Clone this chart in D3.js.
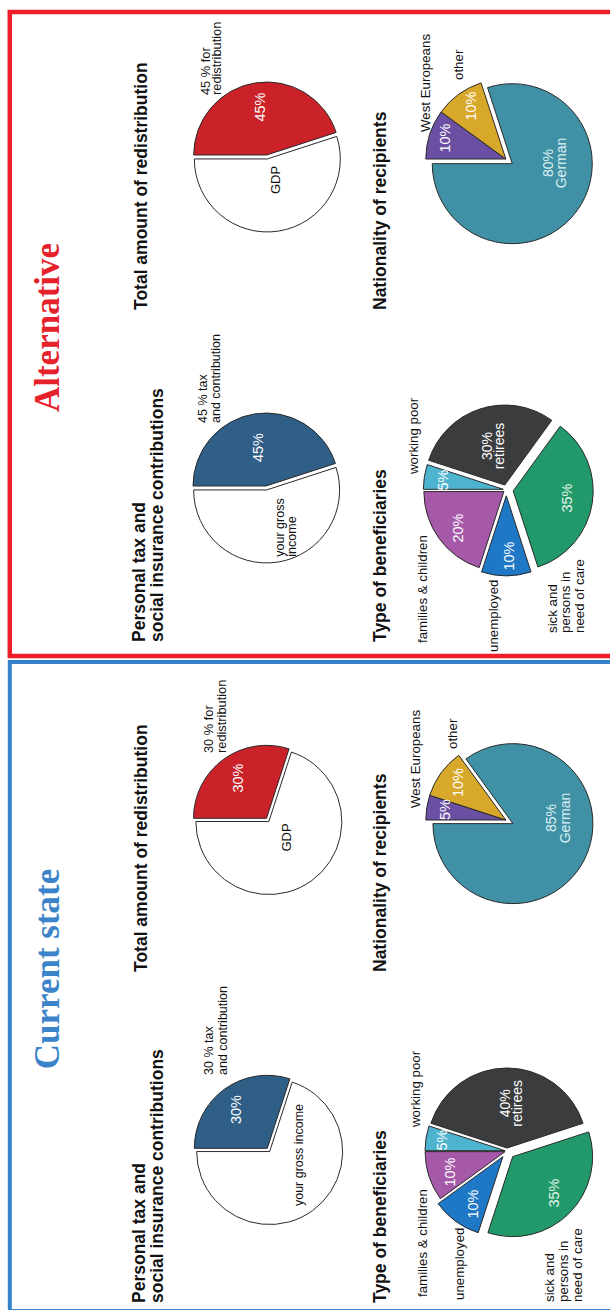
<!DOCTYPE html>
<html>
<head>
<meta charset="utf-8">
<script src="https://cdn.jsdelivr.net/npm/d3@7"></script>
<style>
  html, body { margin: 0; padding: 0; background: #ffffff; }
  svg { display: block; }
</style>
</head>
<body>
<svg id="chart" width="610" height="1310"></svg>
<script>
// ---------------- DATA ----------------
const panelTitles = ["Current state", "Alternative"];
const chartTitles = [["Personal tax and", "social insurance contributions"], ["Total amount of redistribution"], ["Type of beneficiaries"], ["Nationality of recipients"]];

const taxCategories = ["tax and contribution", "your gross income"];
const taxCurrent = [30, 70];
const taxAlternative = [45, 55];

const redistCategories = ["for redistribution", "GDP"];
const redistCurrent = [30, 70];
const redistAlternative = [45, 55];

const beneficiaryCategories = ["working poor", "retirees", "sick and persons in need of care", "unemployed", "families & children"];
const beneficiariesCurrent = [5, 40, 35, 10, 10];
const beneficiariesAlternative = [5, 30, 35, 10, 20];

const nationalityCategories = ["West Europeans", "other", "German"];
const nationalityCurrent = [5, 10, 85];
const nationalityAlternative = [10, 10, 80];

// ---------------- STYLE ----------------
const SANS = "'Liberation Sans', Arial, Helvetica, sans-serif";
const SERIF = "'Liberation Serif', 'Times New Roman', serif";
const taxColors = ["#2f5e86", "#ffffff"];
const redistColors = ["#cb2229", "#ffffff"];
const beneficiaryColors = ["#4db3cf", "#3b3c3e", "#21996b", "#1e78c6", "#a659a8"];
const nationalityColors = ["#6b4fa2", "#d8a82b", "#4091a5"];

// ---------------- LAYOUT (landscape coordinates, rotated -90° onto the page) ----------------
const layout = [
  { // Current state
    frame: { x: -1, y: 9.8, w: 649, h: 700, color: "#3583c9", sw: 4 },
    title: { x: 341, y: 59, color: "#3b84c9" },
    chartTitles: [[7, 145], [338, 147], [7, 385.5], [338, 385.5]],
    tax: { cx: 161.7, cy: 267.3, r: 73, explode: [0, 4],
           inner: [[38.8, -31.3]], innerText: [[-6.7, 35.7]], textLines: [["your gross income"]], textAnchor: "middle", textLh: 12.5,
           outer: [73.3, -54.3], outerLh: 13.5 },
    redist: { cx: 491.7, cy: 266.5, r: 73, explode: [0, 4],
           inner: [[40.3, -28.5]], gdp: [-19.2, 19.5],
           outer: [65.3, -54], outerLh: 13 },
    benef: { cx: 159, cy: 507, r: 80, explode: [2, 3, 8, 7, 2],
           inner: [[11, -65.3], [47.7, 3], [-42, 46.5], [-53, -34.5], [-21, -57]],
           outer: [[24, -87], null, [-151, 47], [-149, -43.5], [-146, -80]] },
    nation: { cx: 490, cy: 505.8, r: 80, explode: [0, 0, 8],
           inner: [[10.5, -61.3], [37.5, -47.8], [2, 50]],
           outer: [[12, -85.8], [71, -48.8], null] }
  },
  { // Alternative
    frame: { x: 654, y: 9.8, w: 644, h: 700, color: "#ee1f2a", sw: 4.5 },
    title: { x: 982.5, y: 59, color: "#e5222b" },
    chartTitles: [[668, 145], [1000, 147], [668, 385.5], [1000, 385.5]],
    tax: { cx: 824, cy: 266, r: 73, explode: [0, 4],
           inner: [[38.5, -8.5]], innerText: [[-70.7, 17.5]], textLines: [["your gross", "income"]], textAnchor: "start", textLh: 12.5,
           outer: [63, -59], outerLh: 13 },
    redist: { cx: 1155, cy: 266.7, r: 73, explode: [0, 4],
           inner: [[48, -7.2]], gdp: [-25, 8.3],
           outer: [60, -56.7], outerLh: 11 },
    benef: { cx: 820.2, cy: 506.3, r: 80, explode: [3, 5, 7, 6, 3],
           inner: [[9.8, -63.8], [43.8, -14.3], [-8.2, 60.7], [-66.2, 2.7], [-38.2, -48.8]],
           outer: [[15.8, -88.3], null, [-143.2, 50.3], [-162.2, -8.3], [-153.2, -79.3]] },
    nation: { cx: 1151, cy: 505.8, r: 80, explode: [0, 0, 8],
           inner: [[21, -61.3], [53, -34.8], [-4, 46.7]],
           outer: [[27, -75.8], [79, -42.8], null] }
  }
];

const panelData = [
  { tax: taxCurrent, redist: redistCurrent, benef: beneficiariesCurrent, nation: nationalityCurrent },
  { tax: taxAlternative, redist: redistAlternative, benef: beneficiariesAlternative, nation: nationalityAlternative }
];

// ---------------- DRAW ----------------
const svg = d3.select("#chart");
svg.append("rect").attr("width", 610).attr("height", 1310).attr("fill", "#ffffff");
const root = svg.append("g").attr("transform", "translate(0,1310) rotate(-90)");

const pie = d3.pie().sort(null).value(d => d).startAngle(0).endAngle(2 * Math.PI);

function drawPie(g, cfg, values, colors) {
  const arcs = pie(values);
  const arc = d3.arc().innerRadius(0).outerRadius(cfg.r);
  const pg = g.append("g").attr("transform", `translate(${cfg.cx},${cfg.cy})`);
  pg.selectAll("path").data(arcs).join("path")
    .attr("d", arc)
    .attr("transform", (d, i) => {
      const m = (d.startAngle + d.endAngle) / 2, e = cfg.explode[i] || 0;
      return `translate(${Math.sin(m) * e},${-Math.cos(m) * e})`;
    })
    .attr("fill", (d, i) => colors[i])
    .attr("stroke", "#2a2a2a")
    .attr("stroke-width", 1)
    .attr("stroke-linejoin", "round");
  return pg;
}

function text(g, x, y, lines, o) {
  const t = g.append("text")
    .attr("x", x).attr("y", y)
    .attr("font-family", o.family || SANS)
    .attr("font-size", o.size)
    .attr("font-weight", o.weight || "normal")
    .attr("fill", o.fill || "#111111")
    .attr("text-anchor", o.anchor || "start");
  lines.forEach((ln, i) => {
    t.append("tspan").attr("x", x).attr("dy", i === 0 ? 0 : o.lh).text(ln);
  });
  return t;
}

const pct = v => `${v}%`;
const PCT_SIZE = 14.5;
const LBL_SIZE = 13.3;
// centred single-line percent label: convert centre to baseline
const centreBase = (cy, size) => cy + size * 0.36;

layout.forEach((L, p) => {
  const D = panelData[p];
  const g = root.append("g");

  // frame
  g.append("rect").attr("x", L.frame.x).attr("y", L.frame.y)
    .attr("width", L.frame.w).attr("height", L.frame.h)
    .attr("fill", "none").attr("stroke", L.frame.color).attr("stroke-width", L.frame.sw);

  // panel title
  text(g, L.title.x, L.title.y, [panelTitles[p]], { family: SERIF, size: 35, weight: "bold", fill: L.title.color, anchor: "middle" });

  // chart titles
  chartTitles.forEach((t, i) => {
    text(g, L.chartTitles[i][0], L.chartTitles[i][1], t, { size: 17.5, weight: "bold", fill: "#111111", lh: 18 });
  });

  // --- Personal tax pie ---
  const T = L.tax;
  drawPie(g, T, D.tax, taxColors);
  text(g, T.cx + T.inner[0][0], centreBase(T.cy + T.inner[0][1], PCT_SIZE), [pct(D.tax[0])], { size: PCT_SIZE, fill: "#ffffff", anchor: "middle" });
  text(g, T.cx + T.innerText[0][0], T.cy + T.innerText[0][1], T.textLines[0], { size: 12.5, fill: "#111111", anchor: T.textAnchor, lh: T.textLh });
  text(g, T.cx + T.outer[0], T.cy + T.outer[1], [`${D.tax[0]} % tax`, "and contribution"], { size: 12.5, lh: T.outerLh });

  // --- Total amount of redistribution pie ---
  const R = L.redist;
  drawPie(g, R, D.redist, redistColors);
  text(g, R.cx + R.inner[0][0], centreBase(R.cy + R.inner[0][1], PCT_SIZE), [pct(D.redist[0])], { size: PCT_SIZE, fill: "#ffffff", anchor: "middle" });
  text(g, R.cx + R.gdp[0], centreBase(R.cy + R.gdp[1], 13), [redistCategories[1]], { size: 13, fill: "#111111", anchor: "middle" });
  text(g, R.cx + R.outer[0], R.cy + R.outer[1], [`${D.redist[0]} % for`, "redistribution"], { size: 12.8, lh: R.outerLh });

  // --- Type of beneficiaries pie ---
  const B = L.benef;
  drawPie(g, B, D.benef, beneficiaryColors);
  D.benef.forEach((v, i) => {
    const [dx, dy] = B.inner[i];
    if (i === 1) {
      text(g, B.cx + dx, B.cy + dy, [pct(v), beneficiaryCategories[1]], { size: 14, fill: "#ffffff", anchor: "middle", lh: 12 });
    } else {
      const fill = i === 2 ? "#e3f3ea" : "#ffffff";
      text(g, B.cx + dx, centreBase(B.cy + dy, PCT_SIZE), [pct(v)], { size: PCT_SIZE, fill, anchor: "middle" });
    }
  });
  B.outer.forEach((o, i) => {
    if (!o) return;
    const lines = i === 2 ? ["sick and", "persons in", "need of care"] : [beneficiaryCategories[i]];
    text(g, B.cx + o[0], B.cy + o[1], lines, { size: LBL_SIZE, lh: 13.8 });
  });

  // --- Nationality pie ---
  const N = L.nation;
  drawPie(g, N, D.nation, nationalityColors);
  D.nation.forEach((v, i) => {
    const [dx, dy] = N.inner[i];
    if (i === 2) {
      text(g, N.cx + dx, N.cy + dy, [pct(v), nationalityCategories[2]], { size: 14, fill: "#dcf0f4", anchor: "middle", lh: 13.8 });
    } else {
      text(g, N.cx + dx, centreBase(N.cy + dy, PCT_SIZE), [pct(v)], { size: PCT_SIZE, fill: "#ffffff", anchor: "middle" });
    }
  });
  N.outer.forEach((o, i) => {
    if (!o) return;
    text(g, N.cx + o[0], N.cy + o[1], [nationalityCategories[i]], { size: LBL_SIZE });
  });
});
</script>
</body>
</html>
